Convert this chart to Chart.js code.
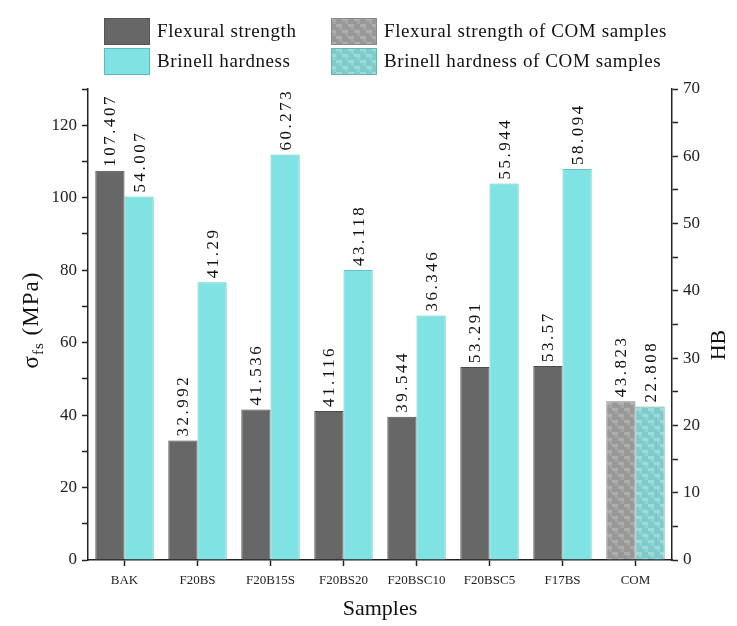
<!DOCTYPE html>
<html>
<head>
<meta charset="utf-8">
<script src="https://cdn.jsdelivr.net/npm/chart.js@4"></script>
<style>
  html, body { margin: 0; padding: 0; background: #fff; }
  #wrap { width: 737px; height: 626px; }
</style>
</head>
<body>
<div id="wrap"><canvas id="chart" width="737" height="626"></canvas></div>
<script>
const samples = ['BAK', 'F20BS', 'F20B15S', 'F20BS20', 'F20BSC10', 'F20BSC5', 'F17BS', 'COM'];
const flexural = [107.407, 32.992, 41.536, 41.116, 39.544, 53.291, 53.57, 43.823];
const hardness = [54.007, 41.29, 60.273, 43.118, 36.346, 55.944, 58.094, 22.808];
const legendNames = ['Flexural strength', 'Brinell hardness', 'Flexural strength of COM samples', 'Brinell hardness of COM samples'];

const serif = '"Liberation Serif", "Times New Roman", serif';
const darkGray = '#676767';
const cyan = '#80e3e3';

// blurry checker tile like the scanned COM bars
function makePattern(base, light) {
  const c = document.createElement('canvas');
  c.width = 12; c.height = 12;
  const g = c.getContext('2d');
  g.fillStyle = base;
  g.fillRect(0, 0, 12, 12);
  g.fillStyle = light;
  g.globalAlpha = 0.6;
  g.fillRect(0, 0, 6, 3);
  g.fillRect(6, 6, 6, 3);
  g.globalAlpha = 0.35;
  g.fillRect(3, 3, 3, 3);
  g.fillRect(9, 9, 3, 3);
  return g.createPattern(c, 'repeat');
}
const ctx = document.getElementById('chart').getContext('2d');
const grayPat = makePattern('#989898', '#bdbdbd');
const tealPat = makePattern('#7fcaca', '#b2e6e6');

const flexColors = samples.map(s => s === 'COM' ? grayPat : darkGray);
const hardColors = samples.map(s => s === 'COM' ? tealPat : cyan);

const extras = {
  id: 'extras',
  afterDatasetsDraw(chart) {
    const c = chart.ctx;
    c.save();
    c.fillStyle = '#111';
    c.font = '17px ' + serif;
    c.letterSpacing = '2.5px';
    c.textAlign = 'left';
    c.textBaseline = 'middle';
    chart.data.datasets.forEach((ds, di) => {
      chart.getDatasetMeta(di).data.forEach((bar, i) => {
        c.save();
        c.translate(bar.x + 1, bar.y - 4);
        c.rotate(-Math.PI / 2);
        c.fillText(String(ds.data[i]), 0, 0);
        c.restore();
      });
    });
    c.restore();
  },
  afterDraw(chart) {
    const c = chart.ctx;
    const a = chart.chartArea;
    c.save();
    c.fillStyle = '#111';
    // axis titles
    c.font = '22px ' + serif;
    c.textAlign = 'center';
    c.textBaseline = 'middle';
    c.fillText('Samples', (a.left + a.right) / 2, 609);
    c.save();
    c.translate(719, 345);
    c.rotate(-Math.PI / 2);
    c.fillText('HB', 0, 0);
    c.restore();
    c.save();
    c.translate(32, 320);
    c.rotate(-Math.PI / 2);
    c.textAlign = 'left';
    c.letterSpacing = '1px';
    c.font = '23px ' + serif;
    const w1 = c.measureText('σ').width;
    c.font = '15px ' + serif;
    const w2 = c.measureText('fs').width;
    c.font = '23px ' + serif;
    const w3 = c.measureText(' (MPa)').width;
    let x = -(w1 + w2 + w3) / 2;
    c.fillText('σ', x, 0);
    c.font = '15px ' + serif;
    c.fillText('fs', x + w1, 7);
    c.font = '23px ' + serif;
    c.fillText(' (MPa)', x + w1 + w2, 0);
    c.restore();
    // legend
    const fills = [darkGray, cyan, grayPat, tealPat];
    const strokes = ['#555', '#5cbcbc', '#8a8a8a', '#6ab4b4'];
    const pos = [[104, 18], [104, 48], [331, 18], [331, 48]];
    c.font = '19px ' + serif;
    c.letterSpacing = '0.6px';
    c.textAlign = 'left';
    legendNames.forEach((name, i) => {
      const [lx, ly] = pos[i];
      c.fillStyle = fills[i];
      c.fillRect(lx, ly, 46, 27);
      c.strokeStyle = strokes[i];
      c.lineWidth = 1;
      c.strokeRect(lx + 0.5, ly + 0.5, 45, 26);
      c.fillStyle = '#111';
      c.fillText(name, lx + 53, ly + 14);
    });
    c.restore();
  }
};

new Chart(ctx, {
  type: 'bar',
  data: {
    labels: samples,
    datasets: [
      {
        label: legendNames[0],
        data: flexural,
        backgroundColor: flexColors,
        borderColor: samples.map(s => s === 'COM' ? '#7a7a7a' : '#4a4a4a'),
        borderWidth: 1,
        yAxisID: 'y'
      },
      {
        label: legendNames[1],
        data: hardness,
        backgroundColor: hardColors,
        borderColor: samples.map(s => s === 'COM' ? '#66b0b0' : '#62c4c4'),
        borderWidth: 1,
        yAxisID: 'y2'
      }
    ]
  },
  options: {
    responsive: false,
    animation: false,
    layout: { padding: { top: 89, right: 0, left: 0, bottom: 0 } },
    categoryPercentage: 0.8,
    barPercentage: 1.0,
    plugins: {
      legend: { display: false },
      tooltip: { enabled: false }
    },
    scales: {
      x: {
        offset: true,
        grid: { display: true, drawOnChartArea: false, offset: false, tickLength: 6, color: '#222', tickWidth: 1.5 },
        border: { display: true, color: '#222', width: 1.5 },
        ticks: { color: '#222', font: { family: serif, size: 13 }, padding: 7, maxRotation: 0, autoSkip: false },
        afterFit: s => { s.height = 66; }
      },
      y: {
        position: 'left',
        min: 0,
        max: 130,
        grid: { display: true, drawOnChartArea: false, tickLength: 6, color: '#222', tickWidth: 1.5 },
        border: { display: true, color: '#222', width: 1.5 },
        ticks: {
          stepSize: 10,
          color: '#222',
          font: { family: serif, size: 17 },
          padding: 5,
          callback: v => v % 20 === 0 ? v : ''
        },
        afterFit: s => { s.width = 88; }
      },
      y2: {
        position: 'right',
        min: 0,
        max: 70,
        grid: { display: true, drawOnChartArea: false, tickLength: 6, color: '#222', tickWidth: 1.5 },
        border: { display: true, color: '#222', width: 1.5 },
        ticks: {
          stepSize: 5,
          color: '#222',
          font: { family: serif, size: 17 },
          padding: 5,
          callback: v => v % 10 === 0 ? v : ''
        },
        afterFit: s => { s.width = 65; }
      }
    }
  },
  plugins: [extras]
});
</script>
</body>
</html>
